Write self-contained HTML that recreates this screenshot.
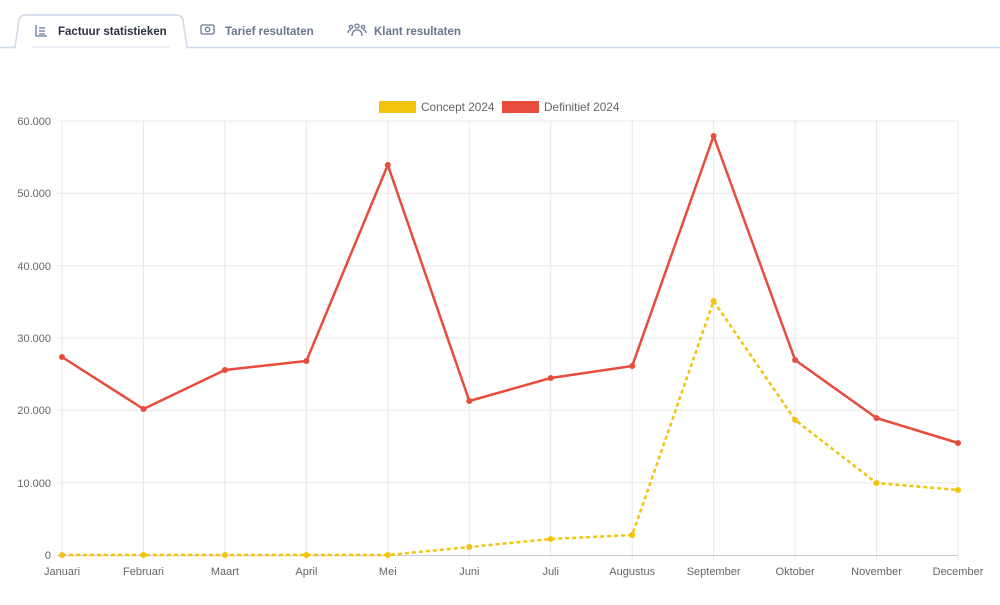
<!DOCTYPE html>
<html><head><meta charset="utf-8"><style>
body{margin:0;width:1000px;height:600px;background:#fff;font-family:"Liberation Sans",sans-serif;overflow:hidden}
</style></head><body>
<svg width="1000" height="600" xmlns="http://www.w3.org/2000/svg" font-family="Liberation Sans, sans-serif">
<path d="M0 47.5 H15 L19 20 Q20 15 26 15 H176 Q182 15 183 20 L187 47.5 H1000" fill="none" stroke="#cfdbe8" stroke-width="1.5"/>
<line x1="31" y1="47" x2="170" y2="47" stroke="#eef3f9" stroke-width="2"/>
<g stroke="#6b7a99" stroke-width="1.3" fill="none">
<path d="M36 25 V36 H47 M39 28 H45 M39 31 H45 M39 34 H45"/>
<rect x="201" y="25" width="13" height="9" rx="1.5"/><circle cx="207.5" cy="29.5" r="2.2"/>
<circle cx="357" cy="26" r="2"/><circle cx="351" cy="27" r="1.6"/><circle cx="363" cy="27" r="1.6"/><path d="M352 36 Q352 30 357 30 Q362 30 362 36 M348 33 Q348 30 351 30 M366 33 Q366 30 363 30"/>
</g>
<text x="58" y="35" font-size="11.5" font-weight="bold" fill="#2b3245">Factuur statistieken</text>
<text x="225" y="35" font-size="11.5" font-weight="bold" fill="#6b7590">Tarief resultaten</text>
<text x="374" y="35" font-size="11.5" font-weight="bold" fill="#6b7590">Klant resultaten</text>
<rect x="379" y="101" width="37" height="12" fill="#f2c40f"/>
<text x="421" y="111" font-size="11.8" fill="#666">Concept 2024</text>
<rect x="502" y="101" width="37" height="12" fill="#e74c3c"/>
<text x="544" y="111" font-size="11.8" fill="#666">Definitief 2024</text>
<g stroke="#e8e8e8" stroke-width="1">
<line x1="57" y1="121" x2="958" y2="121"/><line x1="57" y1="193.3" x2="958" y2="193.3"/><line x1="57" y1="265.7" x2="958" y2="265.7"/><line x1="57" y1="338" x2="958" y2="338"/><line x1="57" y1="410.3" x2="958" y2="410.3"/><line x1="57" y1="482.7" x2="958" y2="482.7"/>
<line x1="62" y1="121" x2="62" y2="560"/><line x1="143.5" y1="121" x2="143.5" y2="560"/><line x1="224.9" y1="121" x2="224.9" y2="560"/><line x1="306.4" y1="121" x2="306.4" y2="560"/><line x1="387.8" y1="121" x2="387.8" y2="560"/><line x1="469.3" y1="121" x2="469.3" y2="560"/><line x1="550.7" y1="121" x2="550.7" y2="560"/><line x1="632.2" y1="121" x2="632.2" y2="560"/><line x1="713.6" y1="121" x2="713.6" y2="560"/><line x1="795.1" y1="121" x2="795.1" y2="560"/><line x1="876.5" y1="121" x2="876.5" y2="560"/><line x1="958" y1="121" x2="958" y2="560"/>
</g>
<line x1="57" y1="555.5" x2="958" y2="555.5" stroke="#ccc"/>
<g font-size="11" fill="#666" text-anchor="end">
<text x="51" y="125">60.000</text><text x="51" y="197">50.000</text><text x="51" y="270">40.000</text><text x="51" y="342">30.000</text><text x="51" y="414">20.000</text><text x="51" y="487">10.000</text><text x="51" y="559">0</text>
</g>
<g font-size="11" fill="#666" text-anchor="middle">
<text x="62" y="575">Januari</text><text x="143.5" y="575">Februari</text><text x="224.9" y="575">Maart</text><text x="306.4" y="575">April</text><text x="387.8" y="575">Mei</text><text x="469.3" y="575">Juni</text><text x="550.7" y="575">Juli</text><text x="632.2" y="575">Augustus</text><text x="713.6" y="575">September</text><text x="795.1" y="575">Oktober</text><text x="876.5" y="575">November</text><text x="958" y="575">December</text>
</g>
<polyline fill="none" stroke="#f2c40f" stroke-width="2.5" stroke-dasharray="4,3" stroke-linejoin="round" points="62,555 143.5,555 224.9,555 306.4,555 387.8,555 469.3,547 550.7,539 632.2,535 713.6,301 795.1,420 876.5,483 958,490"/>
<g fill="#f2c40f"><circle cx="62" cy="555" r="3"/><circle cx="143.5" cy="555" r="3"/><circle cx="224.9" cy="555" r="3"/><circle cx="306.4" cy="555" r="3"/><circle cx="387.8" cy="555" r="3"/><circle cx="469.3" cy="547" r="3"/><circle cx="550.7" cy="539" r="3"/><circle cx="632.2" cy="535" r="3"/><circle cx="713.6" cy="301" r="3"/><circle cx="795.1" cy="420" r="3"/><circle cx="876.5" cy="483" r="3"/><circle cx="958" cy="490" r="3"/></g>
<polyline fill="none" stroke="#e74c3c" stroke-width="2.5" stroke-linejoin="round" points="62,357 143.5,409 224.9,370 306.4,361 387.8,165 469.3,401 550.7,378 632.2,366 713.6,136 795.1,360 876.5,418 958,443"/>
<g fill="#e74c3c"><circle cx="62" cy="357" r="3"/><circle cx="143.5" cy="409" r="3"/><circle cx="224.9" cy="370" r="3"/><circle cx="306.4" cy="361" r="3"/><circle cx="387.8" cy="165" r="3"/><circle cx="469.3" cy="401" r="3"/><circle cx="550.7" cy="378" r="3"/><circle cx="632.2" cy="366" r="3"/><circle cx="713.6" cy="136" r="3"/><circle cx="795.1" cy="360" r="3"/><circle cx="876.5" cy="418" r="3"/><circle cx="958" cy="443" r="3"/></g>
</svg>
</body></html>
